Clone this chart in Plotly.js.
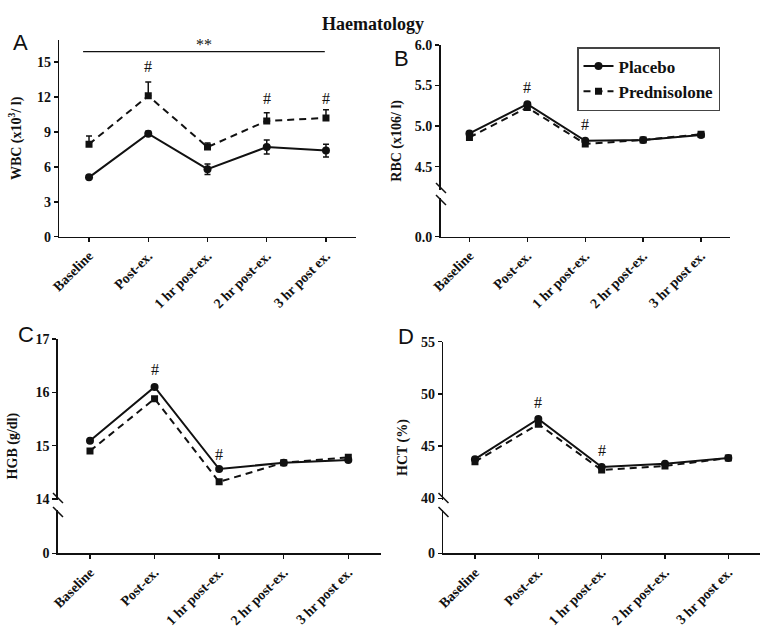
<!DOCTYPE html>
<html>
<head>
<meta charset="utf-8">
<script src="https://cdn.plot.ly/plotly-3.0.1.min.js"></script>
<style>
  html, body { margin: 0; padding: 0; background: #fff; }
  #chart { width: 762px; height: 631px; }
</style>
</head>
<body>
<div id="chart"></div>
<script>
// time points on the x axis of every panel
var timepoints = ['Baseline', 'Post-ex.', '1 hr post-ex.', '2 hr post-ex.', '3 hr post ex.'];

// A: white blood cells
var wbcPlacebo    = [5.1, 8.85, 5.8, 7.7, 7.4];
var wbcPlaceboErr = [0.15, 0.2, 0.45, 0.6, 0.55];
var wbcPred       = [7.95, 12.1, 7.7, 9.95, 10.2];
var wbcPredErr    = [0.7, 1.2, 0.35, 0.7, 0.7];

// B: red blood cells
var rbcPlacebo = [4.91, 5.27, 4.82, 4.83, 4.89];
var rbcPred    = [4.86, 5.23, 4.78, 4.83, 4.90];

// C: haemoglobin
var hgbPlacebo = [15.09, 16.1, 14.56, 14.68, 14.73];
var hgbPred    = [14.9, 15.88, 14.32, 14.68, 14.78];

// D: haematocrit
var hctPlacebo = [43.75, 47.6, 43.0, 43.3, 43.85];
var hctPred    = [43.5, 47.1, 42.7, 43.1, 43.85];

var W = 762, H = 631;
function px(x) { return x / W; }
function py(y) { return 1 - y / H; }

var ink = '#111';
var serif = 'Liberation Serif, Times New Roman, serif';

function placebo(y, xa, ya, legend, err) {
  var t = {
    x: timepoints, y: y, xaxis: xa, yaxis: ya,
    type: 'scatter', mode: 'lines+markers', name: 'Placebo',
    showlegend: legend,
    line: {color: ink, width: 2},
    marker: {symbol: 'circle', size: 8, color: ink}
  };
  if (err) t.error_y = {type: 'data', array: err, color: ink, thickness: 1.5, width: 3};
  return t;
}
function pred(y, xa, ya, legend, err) {
  var t = {
    x: timepoints, y: y, xaxis: xa, yaxis: ya,
    type: 'scatter', mode: 'lines+markers', name: 'Prednisolone',
    showlegend: legend,
    line: {color: ink, width: 2, dash: '7px,5px'},
    marker: {symbol: 'square', size: 7, color: ink}
  };
  if (err) t.error_y = {type: 'data', symmetric: false, array: err,
                        arrayminus: err.map(function () { return 0; }),
                        color: ink, thickness: 1.5, width: 3};
  return t;
}

var traces = [
  placebo(wbcPlacebo, 'x', 'y', false, wbcPlaceboErr),
  pred(wbcPred, 'x', 'y', false, wbcPredErr),
  placebo(rbcPlacebo, 'x2', 'y2', true),
  pred(rbcPred, 'x2', 'y2', true),
  placebo(hgbPlacebo, 'x3', 'y3', false),
  pred(hgbPred, 'x3', 'y3', false),
  placebo(hctPlacebo, 'x4', 'y4', false),
  pred(hctPred, 'x4', 'y4', false)
];

var tickFont = {family: serif, size: 14, color: ink, weight: 'bold'};
var titleFont = {family: serif, size: 14, color: ink};

function xax(l, r, anchor) {
  return {
    domain: [px(l), px(r)], anchor: anchor, type: 'category',
    range: [-0.5, 4.5], showline: true, linecolor: ink, linewidth: 1.5,
    ticks: 'outside', ticklen: 4, tickwidth: 1.5, tickcolor: ink,
    tickangle: -45, tickfont: tickFont, showgrid: false, zeroline: false,
    fixedrange: true
  };
}
function yax(top, bot, anchor, title, range, tickvals, ticktext, standoff) {
  var a = {
    domain: [py(bot), py(top)], anchor: anchor, range: range,
    showline: true, linecolor: ink, linewidth: 1.5,
    ticks: 'outside', ticklen: 4, tickwidth: 1.5, tickcolor: ink,
    tickfont: tickFont, showgrid: false, zeroline: false,
    title: {text: title, font: titleFont, standoff: standoff},
    tickvals: tickvals, fixedrange: true
  };
  if (ticktext) a.ticktext = ticktext;
  return a;
}

// broken axes: the lowest tick shows 0 below a break
var rbcTicks = [3.637, 4.5, 5.0, 5.5, 6.0];
var hgbTicks = [12.98, 14, 15, 16, 17];
var hctTicks = [34.73, 40, 45, 50, 55];

// axis break marks (white gap plus two slashes), pixel coordinates
function brk(ax, yc1, yc2) {
  var s = [];
  s.push({type: 'line', xref: 'paper', yref: 'paper',
          x0: px(ax), x1: px(ax), y0: py(yc1 + 2), y1: py(yc2 - 2),
          line: {color: '#fff', width: 4}});
  [yc1, yc2].forEach(function (yc) {
    s.push({type: 'line', xref: 'paper', yref: 'paper',
            x0: px(ax - 5), y0: py(yc - 5), x1: px(ax + 5), y1: py(yc + 5),
            line: {color: ink, width: 1.5}});
  });
  return s;
}

var shapes = [
  // significance bar over panel A
  {type: 'line', xref: 'x', yref: 'y', x0: -0.1, x1: 3.98, y0: 15.9, y1: 15.9,
   line: {color: ink, width: 1.2}}
].concat(brk(441, 188, 200), brk(58, 498, 512), brk(443.5, 498, 512));

function hash(x, y, xr, yr) {
  return {x: x, y: y, xref: xr, yref: yr, text: '#', showarrow: false,
          font: {family: serif, size: 16, color: ink}};
}
function letter(t, x, y) {
  return {x: px(x), y: py(y), xref: 'paper', yref: 'paper', text: t, showarrow: false,
          font: {family: 'Liberation Sans, Arial, sans-serif', size: 22, color: ink}};
}

var annotations = [
  {x: px(373), y: py(12), xref: 'paper', yref: 'paper', text: '<b>Haematology</b>',
   showarrow: false, font: {family: serif, size: 18, color: ink}},
  letter('A', 11, 28), letter('B', 401, 44), letter('C', 16, 334), letter('D', 406, 336),
  {x: 1.94, y: 16.55, xref: 'x', yref: 'y', text: '**', showarrow: false,
   font: {family: serif, size: 16, color: ink}},
  hash(1, 14.6, 'x', 'y'), hash(3, 11.9, 'x', 'y'), hash(4, 11.9, 'x', 'y'),
  hash(1, 5.47, 'x2', 'y2'), hash(2, 5.02, 'x2', 'y2'),
  hash(1, 16.42, 'x3', 'y3'), hash(2, 14.84, 'x3', 'y3'),
  hash(1, 49.17, 'x4', 'y4'), hash(2, 44.6, 'x4', 'y4')
];

var layout = {
  width: W, height: H,
  margin: {l: 0, r: 0, t: 0, b: 0},
  paper_bgcolor: '#fff', plot_bgcolor: '#fff',
  font: {family: serif, color: ink},
  xaxis:  xax(59.4, 355.6, 'y'),
  yaxis:  yax(40, 236.7, 'x', '<b>WBC (x10<sup>3</sup>/ l)</b>', [0, 16.9], [0, 3, 6, 9, 12, 15], null, 12),
  xaxis2: xax(440.5, 730, 'y2'),
  yaxis2: yax(45, 236.7, 'x2', '<b>RBC (x106/ l)</b>', [3.637, 6.0], rbcTicks,
              ['0.0', '4.5', '5.0', '5.5', '6.0'], 10),
  xaxis3: xax(57.7, 380.6, 'y3'),
  yaxis3: yax(339, 553.3, 'x3', '<b>HGB (g/dl)</b>', [12.98, 17], hgbTicks,
              ['0', '14', '15', '16', '17'], 14),
  xaxis4: xax(443.3, 760, 'y4'),
  yaxis4: yax(341.7, 553.3, 'x4', '<b>HCT (%)</b>', [34.73, 55], hctTicks,
              ['0', '40', '45', '50', '55'], 10),
  showlegend: true,
  legend: {
    x: px(577), y: py(47), xanchor: 'left', yanchor: 'top',
    bgcolor: '#fff', bordercolor: '#444', borderwidth: 1.5,
    font: {family: serif, size: 17, color: ink, weight: 'bold'},
    itemwidth: 30, tracegroupgap: 0
  },
  shapes: shapes,
  annotations: annotations
};

Plotly.newPlot('chart', traces, layout, {staticPlot: true, displayModeBar: false});
</script>
</body>
</html>
